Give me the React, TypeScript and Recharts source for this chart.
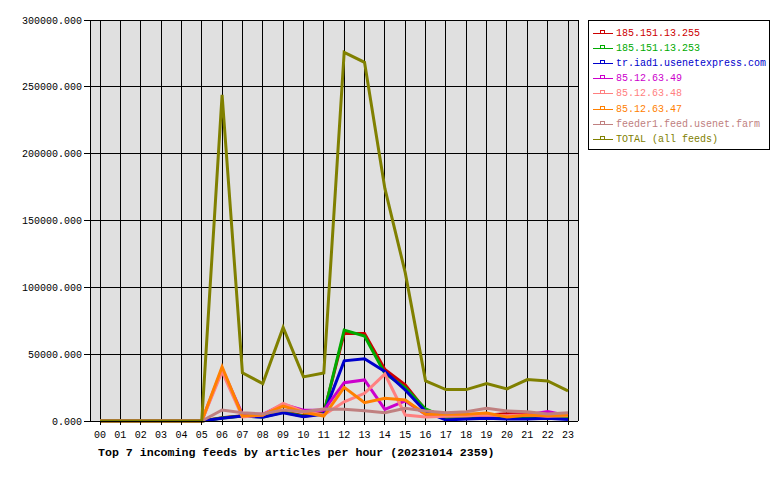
import React from "react";
import { LineChart, Line, XAxis, YAxis, CartesianGrid } from "recharts";

const hours = ["00","01","02","03","04","05","06","07","08","09","10","11","12","13","14","15","16","17","18","19","20","21","22","23"];

const feedNames = [
  "185.151.13.255",
  "185.151.13.253",
  "tr.iad1.usenetexpress.com",
  "85.12.63.49",
  "85.12.63.48",
  "85.12.63.47",
  "feeder1.feed.usenet.farm",
  "TOTAL (all feeds)",
];

const feedColors = ["#cc0000", "#00aa00", "#0000cc", "#cc00cc", "#ff8080", "#ff8000", "#c08080", "#808000"];

const s185_151_13_255 = [0,0,0,0,0,0,2500,4000,3500,7000,4000,6000,65500,65500,38500,27000,8000,4000,4000,4500,5500,5000,3500,4000];
const s185_151_13_253 = [0,0,0,0,0,0,2200,3800,3000,6500,3500,5500,68000,63500,35500,25000,9000,2500,2500,3000,3000,3000,2500,3000];
const sUsenetExpress = [0,0,0,0,0,0,2000,3700,2800,6200,3200,5200,45000,46500,37000,23200,7000,700,1500,2000,1500,1500,2000,1200];
const s85_12_63_49 = [0,0,0,0,0,0,39000,5000,5000,12500,8000,8000,28700,30700,8700,15000,5000,4000,4000,4500,4000,4500,7000,4000];
const s85_12_63_48 = [0,0,0,0,0,0,37000,3000,4500,13200,7000,4500,14400,20700,35100,4500,3000,3500,4000,4500,4000,4500,3500,4000];
const s85_12_63_47 = [0,0,0,0,0,0,40600,3700,4500,11200,6500,3700,25200,13700,17000,15700,5000,5000,5000,6000,3000,4500,4000,4500];
const sFeeder1 = [0,0,0,0,0,0,8200,6200,5200,8200,7000,9000,8700,7700,6200,9500,7500,6200,7000,9500,7500,7000,5200,6200];
const sTotal = [0,0,0,0,0,0,244000,36000,28000,70000,33000,36000,275800,268300,174000,111000,30000,23500,23500,28000,24000,31000,30000,22500];

const yTicks = [0, 50000, 100000, 150000, 200000, 250000, 300000];

const seriesArrays = [s185_151_13_255, s185_151_13_253, sUsenetExpress, s85_12_63_49, s85_12_63_48, s85_12_63_47, sFeeder1, sTotal];

const data = hours.map((h, i) => {
  const row: Record<string, any> = { hour: h };
  seriesArrays.forEach((arr, k) => {
    row["s" + k] = arr[i];
  });
  return row;
});

const MONO = "'Liberation Mono', 'DejaVu Sans Mono', monospace";

const LegendBox = () => (
  <div
    style={{
      position: "absolute",
      left: 588,
      top: 20,
      width: 180,
      height: 128,
      border: "1px solid #000",
      background: "#fff",
      boxSizing: "content-box",
    }}
  >
    {feedNames.map((name, i) => (
      <div
        key={name}
        style={{
          position: "absolute",
          left: 0,
          top: 5 + i * 15.1,
          height: 15,
          width: 180,
          display: "flex",
          alignItems: "center",
        }}
      >
        <svg width={26} height={15} style={{ display: "block" }}>
          <line x1={4} y1={7.5} x2={24} y2={7.5} stroke={feedColors[i]} strokeWidth={1} shapeRendering="crispEdges" />
          <rect x={11.5} y={4.5} width={4} height={3} fill="none" stroke={feedColors[i]} strokeWidth={1} shapeRendering="crispEdges" />
        </svg>
        <span style={{ fontFamily: MONO, fontSize: 10, color: feedColors[i], lineHeight: "15px", whiteSpace: "nowrap", marginLeft: 1 }}>
          {name}
        </span>
      </div>
    ))}
  </div>
);

export default function App() {
  return (
    <div style={{ position: "absolute", left: 0, top: 0, width: 780, height: 480, background: "#fff" }}>
      <LineChart
        width={780}
        height={480}
        data={data}
        margin={{ top: 20, right: 192, bottom: 0, left: 0 }}
      >
        <CartesianGrid stroke="#000" strokeWidth={1} fill="#e0e0e0" fillOpacity={1} shapeRendering="crispEdges" />
        <XAxis
          dataKey="hour"
          padding={{ left: 10, right: 10 }}
          interval={0}
          tickSize={4}
          tickMargin={6}
          stroke="#000"
          tick={{ fontFamily: MONO, fontSize: 10, fill: "#000" }}
          tickLine={{ stroke: "#000", shapeRendering: "crispEdges" }}
          axisLine={{ stroke: "#000", shapeRendering: "crispEdges" }}
          height={59}
        />
        <YAxis
          domain={[0, 300000]}
          ticks={yTicks}
          interval={0}
          width={90}
          tickSize={6}
          tickMargin={2}
          tickFormatter={(v: number) => v.toFixed(3)}
          tick={{ fontFamily: MONO, fontSize: 10, fill: "#000" }}
          tickLine={{ stroke: "#000", shapeRendering: "crispEdges" }}
          axisLine={{ stroke: "#000", shapeRendering: "crispEdges" }}
        />
        <YAxis
          yAxisId="right"
          orientation="right"
          domain={[0, 300000]}
          ticks={[]}
          width={10}
          tick={false}
          tickLine={false}
          axisLine={{ stroke: "#000", shapeRendering: "crispEdges" }}
        />
        {feedNames.map((name, i) => (
          <Line
            key={name}
            type="linear"
            dataKey={"s" + i}
            name={name}
            stroke={feedColors[i]}
            strokeWidth={3}
            dot={false}
            activeDot={false}
            isAnimationActive={false}
          />
        ))}
      </LineChart>
      <LegendBox />
      <svg
        width={780}
        height={480}
        style={{ position: "absolute", left: 0, top: 0, pointerEvents: "none" }}
      >
        <text x={98} y={456} fontFamily={MONO} fontSize={11.6} fontWeight="bold" fill="#000">
          Top 7 incoming feeds by articles per hour (20231014 2359)
        </text>
      </svg>
    </div>
  );
}
